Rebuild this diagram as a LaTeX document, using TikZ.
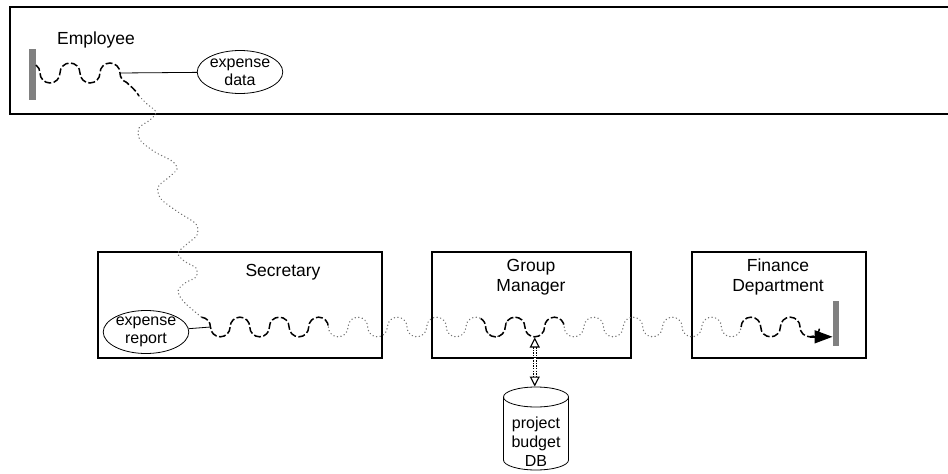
\documentclass[tikz,border=0pt]{standalone}
\usepackage{fontspec}
\setmainfont{Liberation Sans}
\usetikzlibrary{arrows.meta,shapes.geometric}
\begin{document}
\begin{tikzpicture}[x=1pt,y=-1pt,
  lane/.style={draw=black,line width=1.1pt},
  lbl/.style={font=\fontsize{17.5}{20}\selectfont,align=center,inner sep=0pt},
  datum/.style={draw,ellipse,line width=0.8pt,inner sep=0pt,minimum width=80pt,minimum height=43pt,
                font=\fontsize{16}{18}\selectfont,align=center},
  flow/.style={black,line width=1.5pt,dash pattern=on 7pt off 2.5pt},
  transit/.style={black!55,line width=1.3pt,line cap=round,dash pattern=on 0.3pt off 3.3pt},
  endbar/.style={fill=black!50,draw=none,inner sep=0pt,minimum width=6.5pt},
  link/.style={draw,line width=0.8pt},
]
\useasboundingbox (0,0) rectangle (948,474);
\def\r{9.825}

% swimlanes
\draw[lane] (948,7) -- (10,7) -- (10,114) -- (948,114);
\draw[lane] (98,252) rectangle (382,358);
\draw[lane] (432,252) rectangle (631,358);
\draw[lane] (692,252) rectangle (866,358);

\node[lbl] (emp) at (96,40) {Employee};
\node[lbl] (sec) at (283,272) {Secretary};
\node[lbl] (gm) at (531,277) {Group\\Manager};
\node[lbl] (fin) at (778,277) {Finance\\Department};

% start and end bars
\node[endbar,minimum height=51pt] (startbar) at (32.5,74.5) {};
\node[endbar,minimum height=45pt] (stopbar) at (836,323.5) {};

% data items
\node[datum] (data) at (240,72) {expense\\data};
\node[datum] (report) at (146,332) {expense\\report};

% employee part of the flow
\coordinate (emptap) at (120,73);
\draw[flow] (36,65) arc[start angle=307,end angle=360,radius=10]
  \foreach \i in {1,2} {arc[start angle=180,end angle=0,radius=10] arc[start angle=180,end angle=360,radius=10]}
  arc[start angle=180,end angle=110,radius=10]
  .. controls (130,86) and (135,89) .. (139,96);
\draw[link] (emptap) -- (data);

% hand-over from employee to secretary
\draw[transit] plot[smooth] coordinates {
  (139,96) (147,104) (156,112) (150,120) (139,128) (140,140) (155,152)
  (172,161) (177,169) (168,178) (158,187) (161,199) (178,212) (196,224)
  (197,235) (187,244) (178,253) (184,261) (196,268) (196,277) (185,283)
  (178,291) (184,302) (201.5,317.2)};

% horizontal flow across the lower lanes: half circles, period 39.3
\draw[flow] (201.5,317.2) arc[start angle=275,end angle=360,radius=\r]
  \foreach \i in {1,2,3} {arc[start angle=180,end angle=0,radius=\r] arc[start angle=180,end angle=360,radius=\r]};
\draw[transit] (328.4,327)
  \foreach \i in {1,2,3,4} {arc[start angle=180,end angle=0,radius=\r] arc[start angle=180,end angle=360,radius=\r]}
  arc[start angle=180,end angle=0,radius=\r] arc[start angle=180,end angle=300,radius=\r];
\draw[flow] (480.7,318.5) arc[start angle=300,end angle=360,radius=\r]
  \foreach \i in {1,2} {arc[start angle=180,end angle=0,radius=\r] arc[start angle=180,end angle=360,radius=\r]};
\draw[transit] (564.2,327)
  \foreach \i in {1,2,3,4} {arc[start angle=180,end angle=0,radius=\r] arc[start angle=180,end angle=360,radius=\r]}
  arc[start angle=180,end angle=0,radius=\r];
\coordinate (trough) at (809.85,336.8);
\draw[flow] (741.1,327)
  \foreach \i in {1,2} {arc[start angle=180,end angle=360,radius=\r] arc[start angle=180,end angle=0,radius=\r]};
\draw[black,line width=1.5pt,-{Triangle[length=18pt,width=13pt]}] (trough) -- (stopbar.west |- trough);

\coordinate (sectap) at (210.5,327);
\draw[link] (report) -- (sectap);

% project budget database
\draw[line width=0.8pt] (503.5,397) -- (503.5,460) arc[start angle=180,end angle=0,x radius=32.5,y radius=10] -- (568.5,397);
\draw[line width=0.8pt] (536,397) ellipse[x radius=32.5,y radius=10];
\node[font=\fontsize{16}{19}\selectfont,align=center,inner sep=0pt] (db) at (536,442) {project\\budget\\DB};
\coordinate (gmtap) at (534.75,337.5);
\coordinate (dbtop) at (534.75,386.5);
\draw[black,line width=1.1pt,double distance=1.8pt,dash pattern=on 1.3pt off 1.3pt,
  {Triangle[open,length=10pt,width=10pt]}-{Triangle[open,length=10pt,width=10pt]}] (gmtap) -- (dbtop);
\end{tikzpicture}
\end{document}
